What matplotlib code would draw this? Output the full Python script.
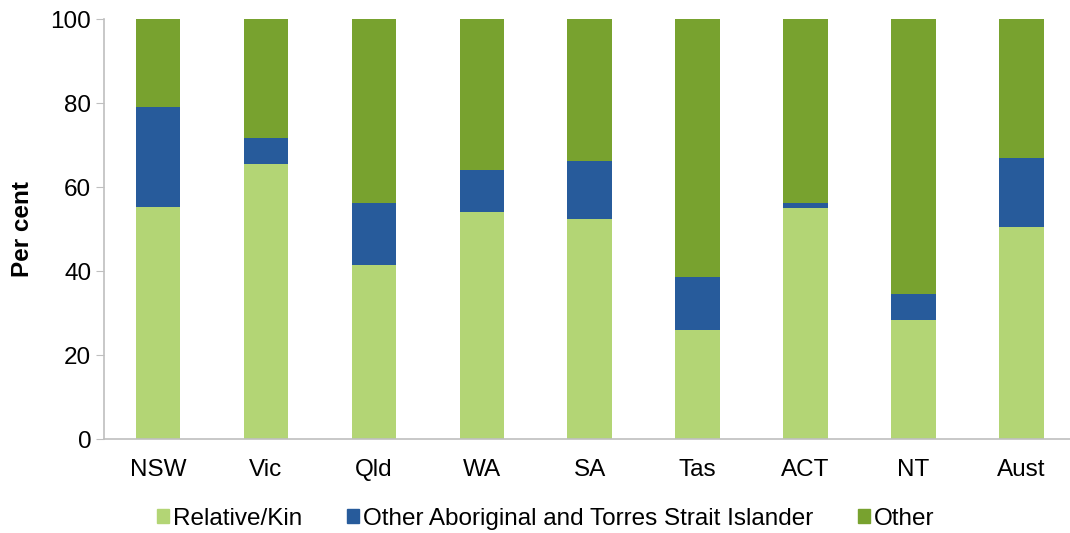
import matplotlib.pyplot as plt
from matplotlib.patches import Patch

plt.rcParams['font.family'] = ['Liberation Sans', 'DejaVu Sans']

# data
states = ['NSW', 'Vic', 'Qld', 'WA', 'SA', 'Tas', 'ACT', 'NT', 'Aust']
relative = [55.4, 65.5, 41.5, 54.1, 52.5, 26.0, 55.1, 28.3, 50.5]
other_atsi = [23.6, 6.1, 14.8, 10.1, 13.8, 12.6, 1.1, 6.3, 16.4]
other = [100 - r - o for r, o in zip(relative, other_atsi)]

labels = ['Relative/Kin', 'Other Aboriginal and Torres Strait Islander', 'Other']
colors = ['#B3D575', '#275B9B', '#78A22F']

fig = plt.figure(figsize=(10.7, 5.33), dpi=100)
ax = fig.add_axes([0.097, 0.176, 0.903, 0.788])

x = range(len(states))
w = 0.41
bottom = [0] * len(states)
for vals, c in zip([relative, other_atsi, other], colors):
    ax.bar(x, vals, w, bottom=bottom, color=c, edgecolor='none')
    bottom = [b + v for b, v in zip(bottom, vals)]

fs = 17.5
ax.set_xlim(-0.5, 8.45)
ax.set_ylim(0, 100)
ax.set_yticks(range(0, 101, 20))
ax.set_xticks(list(x))
ax.set_xticklabels(states)
ax.tick_params(axis='x', length=0, labelsize=fs, pad=14)
ax.tick_params(axis='y', length=6, color='#BFBFBF', labelsize=fs, pad=3)
for s in ['top', 'right']:
    ax.spines[s].set_visible(False)
for s in ['left', 'bottom']:
    ax.spines[s].set_color('#BFBFBF')
    ax.spines[s].set_linewidth(1.2)
ax.set_ylabel('Per cent', fontsize=fs, fontweight='bold', labelpad=12)

handles = [Patch(color=c, label=l) for c, l in zip(colors, labels)]
fig.legend(handles=handles, loc='center', bbox_to_anchor=(0.51, 0.027), ncol=3,
           frameon=False, fontsize=fs, handlelength=0.5, handleheight=0.5,
           handletextpad=0.15, columnspacing=1.85)

fig.savefig('out.png', dpi=100)
